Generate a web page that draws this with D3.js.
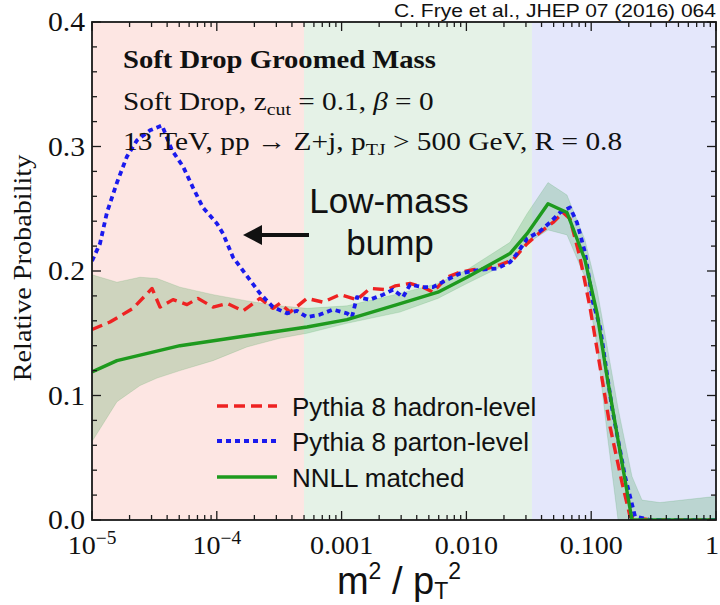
<!DOCTYPE html>
<html><head><meta charset="utf-8">
<script src="https://cdn.jsdelivr.net/npm/d3@7/dist/d3.min.js"></script>
<style>html,body{margin:0;padding:0;background:#fff;overflow:hidden}</style>
</head><body>
<svg id="c" width="720" height="605"></svg>
<script>
// ---------- DATA (x given as log10(m^2/pT^2)) ----------
const hadronLogX = [-5.000,-4.856,-4.671,-4.519,-4.455,-4.351,-4.239,-4.151,-4.030,-3.918,-3.790,-3.654,-3.550,-3.494,-3.413,-3.277,-3.149,-3.013,-2.877,-2.772,-2.636,-2.572,-2.452,-2.348,-2.268,-2.155,-2.051,-1.947,-1.835,-1.731,-1.627,-1.514,-1.410,-1.306,-1.226,-1.170,-1.090,-1.010,-0.929,-0.849,-0.753,-0.689,-0.529,0.000];
const hadronY = [0.153,0.159,0.170,0.186,0.171,0.177,0.173,0.178,0.171,0.174,0.168,0.178,0.170,0.174,0.167,0.178,0.175,0.181,0.177,0.186,0.185,0.188,0.190,0.187,0.183,0.195,0.199,0.201,0.202,0.205,0.209,0.222,0.231,0.239,0.247,0.242,0.211,0.171,0.123,0.075,0.030,0.003,0.000,0.000];

const partonLogX = [-5.000,-4.936,-4.880,-4.800,-4.720,-4.639,-4.535,-4.439,-4.359,-4.271,-4.191,-4.111,-3.998,-3.950,-3.870,-3.774,-3.654,-3.550,-3.438,-3.357,-3.277,-3.173,-3.069,-2.957,-2.917,-2.877,-2.772,-2.668,-2.588,-2.508,-2.452,-2.348,-2.268,-2.155,-2.051,-1.891,-1.755,-1.651,-1.595,-1.514,-1.410,-1.330,-1.250,-1.170,-1.114,-1.050,-0.986,-0.929,-0.833,-0.729,-0.649,-0.529,0.000];
const partonY = [0.208,0.222,0.247,0.271,0.292,0.305,0.313,0.317,0.297,0.284,0.267,0.251,0.238,0.230,0.211,0.198,0.182,0.171,0.166,0.168,0.163,0.165,0.169,0.166,0.163,0.179,0.177,0.181,0.185,0.179,0.189,0.187,0.187,0.193,0.198,0.201,0.202,0.207,0.214,0.226,0.232,0.239,0.247,0.251,0.239,0.215,0.175,0.155,0.090,0.035,0.003,0.000,0.000];

const nnllLogX = [-5.000,-4.800,-4.295,-3.758,-3.277,-2.957,-2.556,-2.228,-1.995,-1.651,-1.514,-1.346,-1.194,-1.050,-0.953,-0.873,-0.769,-0.673,0.000];
const nnllY = [0.119,0.128,0.140,0.148,0.155,0.161,0.173,0.183,0.195,0.214,0.230,0.254,0.247,0.209,0.166,0.115,0.055,0.000,0.000];

const bandLogX = [-5.000,-4.800,-4.615,-4.479,-4.295,-4.030,-3.758,-3.494,-3.277,-2.957,-2.532,-2.228,-1.995,-1.651,-1.514,-1.346,-1.194,-1.050,-0.953,-0.873,-0.785,-0.673,-0.593,-0.449,0.000];
const bandHi = [0.197,0.191,0.195,0.194,0.187,0.181,0.176,0.172,0.170,0.172,0.182,0.190,0.201,0.223,0.246,0.271,0.261,0.225,0.185,0.140,0.090,0.035,0.016,0.014,0.019];
const bandLo = [0.063,0.095,0.108,0.114,0.120,0.128,0.139,0.146,0.150,0.158,0.167,0.178,0.190,0.207,0.222,0.233,0.229,0.195,0.140,0.070,0.000,0.000,0.000,0.000,0.000];

// shaded regions (m^2/pT^2 bounds)
const regionBounds = [1e-5, 5e-4, 0.0335, 1];
const regionColors = ["#fde6e3", "#e5f2e7", "#e4e7fb"];

const xTickValues = [1e-5, 1e-4, 1e-3, 1e-2, 1e-1, 1];
const xTickLabels = [["10","\u22125"],["10","\u22124"],["0.001"],["0.010"],["0.100"],["1"]];
const yTickValues = [0, 0.1, 0.2, 0.3, 0.4];
const yTickLabels = ["0.0","0.1","0.2","0.3","0.4"];

const legendLabels = ["Pythia 8 hadron-level","Pythia 8 parton-level","NNLL matched"];

// ---------- LAYOUT ----------
const L = 92, R = 716, T = 22, B = 520;
const svg = d3.select("#c");
const x = d3.scaleLog().domain([1e-5, 1]).range([L, R]);
const y = d3.scaleLinear().domain([0, 0.4]).range([B, T]);
const serif = "'Liberation Serif','Times New Roman',serif";
const sans = "'Liberation Sans',Arial,Helvetica,sans-serif";

svg.append("defs").append("clipPath").attr("id","clip")
  .append("rect").attr("x",L).attr("y",T).attr("width",R-L).attr("height",B-T);

// regions
svg.selectAll("rect.region").data(regionColors).enter().append("rect")
  .attr("class","region")
  .attr("x",(d,i)=>x(regionBounds[i]))
  .attr("width",(d,i)=>x(regionBounds[i+1])-x(regionBounds[i]))
  .attr("y",T).attr("height",B-T).attr("fill",d=>d);

const plot = svg.append("g").attr("clip-path","url(#clip)");

// band
const bandData = bandLogX.map((lx,i)=>({x:Math.pow(10,lx), hi:bandHi[i], lo:bandLo[i]}));
plot.append("path").datum(bandData)
  .attr("d", d3.area().x(d=>x(d.x)).y0(d=>y(d.lo)).y1(d=>y(d.hi)))
  .attr("fill","rgba(40,150,60,0.22)").attr("stroke","rgba(40,150,60,0.15)").attr("stroke-width",1);

const line = d3.line().x(d=>x(d[0])).y(d=>y(d[1]));
const series = [
  {lx:hadronLogX, v:hadronY, color:"#ee2222", dash:"11,6", w:3.4},
  {lx:partonLogX, v:partonY, color:"#1a1aee", dash:"5,4", w:3.8},
  {lx:nnllLogX, v:nnllY, color:"#1e9a1e", dash:null, w:3.4}
];
series.forEach(s=>{
  plot.append("path").datum(s.lx.map((lx,i)=>[Math.pow(10,lx), s.v[i]]))
    .attr("d", line).attr("fill","none").attr("stroke", s.color)
    .attr("stroke-width", s.w).attr("stroke-dasharray", s.dash)
    .attr("stroke-linejoin","round");
});

// frame
svg.append("rect").attr("x",L).attr("y",T).attr("width",R-L).attr("height",B-T)
  .attr("fill","none").attr("stroke","#1a1a1a").attr("stroke-width",1.8);

// x ticks (major + minor, inside, bottom and top)
const xt = [];
for (let e=-5; e<0; e++) for (let m=1; m<10; m++) xt.push({v:m*Math.pow(10,e), major:m===1});
xt.push({v:1, major:true});
const tk = svg.append("g").attr("stroke","#1a1a1a").attr("stroke-width",1.3);
xt.forEach(t=>{
  const len = t.major?9:5;
  tk.append("line").attr("x1",x(t.v)).attr("x2",x(t.v)).attr("y1",B).attr("y2",B-len);
  tk.append("line").attr("x1",x(t.v)).attr("x2",x(t.v)).attr("y1",T).attr("y2",T+len);
});
// y ticks
d3.range(0, 0.4001, 0.02).forEach((v,i)=>{
  const len = (i%5===0)?9:5;
  tk.append("line").attr("x1",L).attr("x2",L+len).attr("y1",y(v)).attr("y2",y(v));
  tk.append("line").attr("x1",R).attr("x2",R-len).attr("y1",y(v)).attr("y2",y(v));
});

// y tick labels
yTickValues.forEach((v,i)=>{
  svg.append("text").attr("transform",`translate(85,${y(v)+9}) scale(1.1,1)`)
    .attr("text-anchor","end").attr("font-family",serif).attr("font-size",27)
    .attr("fill","#111").text(yTickLabels[i]);
});
// x tick labels (last one kept inside the window)
xTickValues.forEach((v,i)=>{
  const lab = xTickLabels[i];
  const px = Math.min(x(v), 712);
  const t = svg.append("text").attr("transform",`translate(${px},${554}) scale(1.08,1)`)
    .attr("text-anchor","middle").attr("font-family",serif).attr("font-size",26).attr("fill","#111");
  t.append("tspan").text(lab[0]);
  if (lab[1]) t.append("tspan").attr("dy",-10).attr("font-size",18).text(lab[1]);
});

// y axis title
svg.append("text").attr("transform","translate(31,268) rotate(-90) scale(1.13,1)")
  .attr("text-anchor","middle").attr("font-family",serif).attr("font-size",25)
  .attr("fill","#111").text("Relative Probability");

// x axis title
const xt2 = svg.append("text").attr("x",399).attr("y",594).attr("text-anchor","middle")
  .attr("font-family",sans).attr("font-size",38).attr("fill","#111");
xt2.append("tspan").text("m");
xt2.append("tspan").attr("dy",-15).attr("font-size",23).text("2");
xt2.append("tspan").attr("dy",15).text(" / p");
xt2.append("tspan").attr("dy",5).attr("font-size",23).text("T");
xt2.append("tspan").attr("dy",-20).attr("font-size",23).text("2");

// citation
svg.append("text").attr("x",716).attr("y",17).attr("text-anchor","end")
  .attr("font-family",sans).attr("font-size",19).attr("fill","#111")
  .attr("textLength",322).attr("lengthAdjust","spacingAndGlyphs")
  .text("C. Frye et al., JHEP 07 (2016) 064");

// annotation block
function stretched(xp, yp, sx){
  return svg.append("text").attr("transform",`translate(${xp},${yp}) scale(${sx},1)`)
    .attr("font-family",serif).attr("font-size",25).attr("fill","#111");
}
stretched(123,68,1.145).attr("font-weight","bold").text("Soft Drop Groomed Mass");
const l2 = stretched(123,110,1.17);
l2.append("tspan").text("Soft Drop, z");
l2.append("tspan").attr("dy",5).attr("font-size",17).text("cut");
l2.append("tspan").attr("dy",-5).text(" = 0.1, ");
l2.append("tspan").attr("font-style","italic").text("\u03B2");
l2.append("tspan").text(" = 0");
const l3 = stretched(123,150,1.175);
l3.append("tspan").text("13 TeV, pp \u2192 Z+j, p");
l3.append("tspan").attr("dy",5).attr("font-size",17).text("TJ");
l3.append("tspan").attr("dy",-5).text(" > 500 GeV, R = 0.8");

// Low-mass bump
svg.append("text").attr("x",389).attr("y",213).attr("text-anchor","middle")
  .attr("font-family",sans).attr("font-size",35).attr("fill","#111").text("Low-mass");
svg.append("text").attr("x",390).attr("y",255).attr("text-anchor","middle")
  .attr("font-family",sans).attr("font-size",35).attr("fill","#111").text("bump");
svg.append("line").attr("x1",309).attr("x2",258).attr("y1",235).attr("y2",235)
  .attr("stroke","#111").attr("stroke-width",4);
svg.append("path").attr("d","M243,235 L262,225 L262,245 Z").attr("fill","#111");

// legend
const legY = [406, 441, 477];
series.forEach((s,i)=>{
  svg.append("line").attr("x1",217).attr("x2",277).attr("y1",legY[i]).attr("y2",legY[i])
    .attr("stroke",s.color).attr("stroke-width",s.w).attr("stroke-dasharray",s.dash);
  svg.append("text").attr("x",292).attr("y",legY[i]+10).attr("font-family",sans)
    .attr("font-size",26).attr("fill","#111").text(legendLabels[i]);
});
</script>
</body></html>
